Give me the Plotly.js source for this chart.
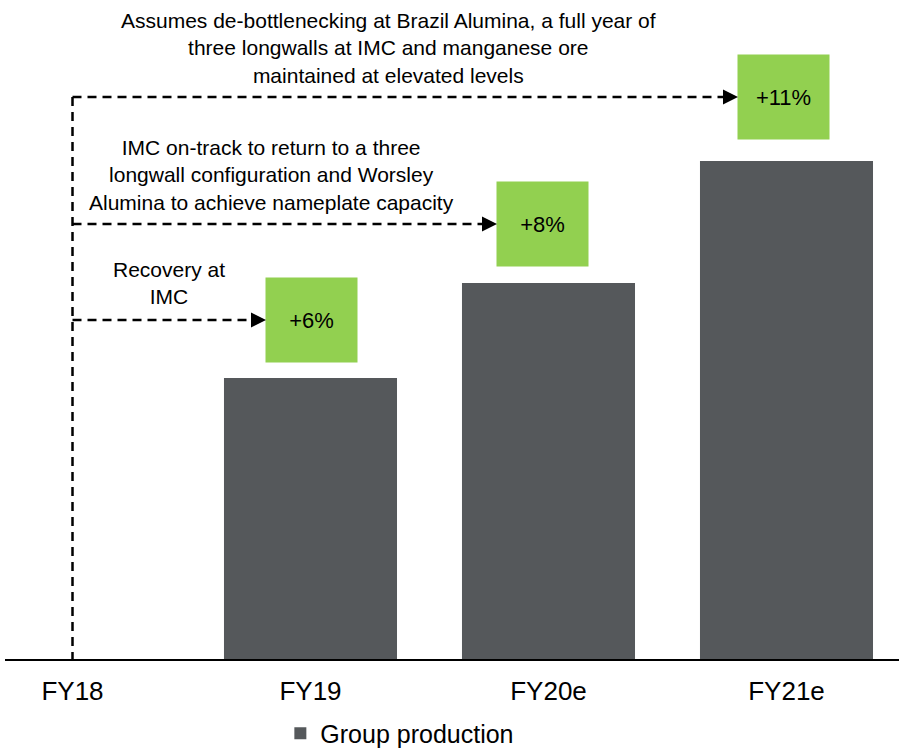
<!DOCTYPE html>
<html>
<head>
<meta charset="utf-8">
<script src="https://cdn.plot.ly/plotly-3.0.1.min.js"></script>
<style>html,body{margin:0;padding:0;background:#fff;}#chart{width:899px;height:751px;}</style>
</head>
<body>
<div id="chart"></div>
<script>
// ---- data ----
const categories = ["FY18", "FY19", "FY20e", "FY21e"];
const groupProduction = [null, 56.4, 75.5, 100];     // relative production (bar heights)
const growthLabels = ["+6%", "+8%", "+11%"];          // for FY19, FY20e, FY21e
const notes = [
  "Recovery at<br>IMC",
  "IMC on-track to return to a three<br>longwall configuration and Worsley<br>Alumina to achieve nameplate capacity",
  "Assumes de-bottlenecking at Brazil Alumina, a full year of<br>three longwalls at IMC and manganese ore<br>maintained at elevated levels"
];

// ---- layout constants ----
const W = 899, H = 751, ML = 5, MB = 92, PH = H - MB;
const XMIN = -0.2836, XMAX = 3.4727;
const YMAX = 132.3;
const pxPerX = (W - ML) / (XMAX - XMIN);
const py = p => (PH - p) / PH * YMAX;           // pixel row -> y value
const FONT = "Liberation Sans, Arial, sans-serif";

const boxW = 91, boxH = 84;
const boxGap = [16, 17, 22];
const boxXShift = [1, -6, -3];
const notePos = [[169, 283], [271, 175], [388, 48]]; // px centres
const headLen = 15;

const annotations = [];
const shapes = [];

const arrowRows = [];
for (let k = 0; k < 3; k++) {
  const i = k + 1;
  const v = groupProduction[i];
  const barTopPx = PH - v / YMAX * PH;
  const cy = barTopPx - boxGap[k] - boxH / 2;
  arrowRows.push(cy);
  const cxData = i + boxXShift[k] / pxPerX;
  annotations.push({
    x: cxData, y: py(cy), xref: "x", yref: "y",
    text: growthLabels[k], showarrow: false,
    width: boxW, height: boxH, bgcolor: "#92D050", borderpad: 0,
    font: {family: FONT, size: 22, color: "#000"}
  });
  const tipX = cxData - (boxW / 2) / pxPerX;
  annotations.push({
    x: tipX, y: py(cy), xref: "x", yref: "y",
    ax: -headLen - 1, ay: 0, text: "", showarrow: true,
    arrowhead: 2, arrowsize: 1.2, arrowwidth: 2.5, arrowcolor: "#000", standoff: 0
  });
  shapes.push({
    type: "line", xref: "x", yref: "y",
    x0: 0, x1: tipX - headLen / pxPerX, y0: py(cy), y1: py(cy),
    line: {color: "#000", width: 2.5, dash: "9px,6px"}
  });
}
shapes.push({
  type: "line", xref: "x", yref: "y",
  x0: 0, x1: 0, y0: py(Math.min(...arrowRows)), y1: 0,
  line: {color: "#000", width: 2.5, dash: "9px,6px"}
});

notes.forEach((t, k) => {
  annotations.push({
    x: (notePos[k][0] - ML) / pxPerX + XMIN, y: py(notePos[k][1]),
    xref: "x", yref: "y", text: t, showarrow: false, align: "center",
    font: {family: FONT, size: 21, color: "#000"}
  });
});

const trace = {
  type: "bar", x: [0, 1, 2, 3], y: groupProduction, name: "Group production",
  marker: {color: "#55585B", line: {width: 0}}, hoverinfo: "skip"
};

const layout = {
  width: W, height: H,
  margin: {l: ML, r: 0, t: 0, b: MB, autoexpand: false},
  paper_bgcolor: "#fff", plot_bgcolor: "#fff",
  font: {family: FONT, color: "#000"},
  bargap: 0.273,
  showlegend: true,
  legend: {orientation: "h", x: 0.308, xanchor: "left", y: -0.078, yanchor: "top",
           borderwidth: 0, bgcolor: "rgba(0,0,0,0)",
           font: {family: FONT, size: 25, color: "#000"}},
  xaxis: {range: [XMIN, XMAX], tickvals: [0, 1, 2, 3], ticktext: categories,
          showgrid: false, zeroline: false, showline: true, linecolor: "#000", linewidth: 2,
          ticks: "", tickfont: {family: FONT, size: 26, color: "#000"}, ticklabelstandoff: 8},
  yaxis: {range: [0, YMAX], visible: false, showgrid: false, zeroline: false},
  annotations: annotations, shapes: shapes
};

Plotly.newPlot("chart", [trace], layout, {displayModeBar: false, staticPlot: true});
</script>
</body>
</html>
